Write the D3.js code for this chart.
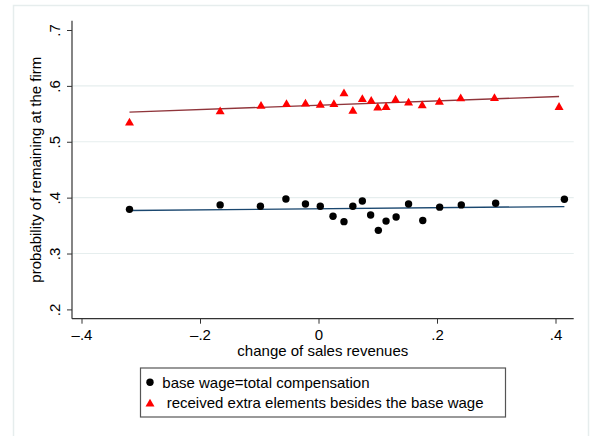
<!DOCTYPE html>
<html>
<head>
<meta charset="utf-8">
<script src="https://cdn.jsdelivr.net/npm/d3@7"></script>
<style>
  html, body { margin: 0; padding: 0; background: #fff; }
  svg { display: block; font-family: "Liberation Sans", Arial, sans-serif; }
</style>
</head>
<body>
<svg id="chart" width="592" height="436"></svg>
<script>
// Group 1: base wage equals total compensation
const baseX = [-0.319, -0.166, -0.098, -0.055, -0.022, 0.003, 0.0245, 0.043, 0.058, 0.074,
               0.088, 0.101, 0.114, 0.131, 0.152, 0.176, 0.2045, 0.241, 0.299, 0.415];
const baseY = [0.379, 0.387, 0.3845, 0.3976, 0.3886, 0.3845, 0.3666, 0.357, 0.3845, 0.394,
               0.369, 0.3415, 0.358, 0.3654, 0.3886, 0.359, 0.383, 0.387, 0.390, 0.397];
// Group 2: received extra pay elements besides the base wage
const extraX = [-0.319, -0.166, -0.097, -0.054, -0.022, 0.003, 0.026, 0.043, 0.058, 0.074,
                0.089, 0.100, 0.114, 0.130, 0.152, 0.175, 0.204, 0.240, 0.297, 0.406];
const extraY = [0.536, 0.556, 0.566, 0.569, 0.570, 0.568, 0.569, 0.5885, 0.557, 0.578,
                0.575, 0.563, 0.564, 0.577, 0.572, 0.567, 0.573, 0.5795, 0.580, 0.564];
// Linear fits (endpoints)
const fitBase = [[-0.319, 0.377], [0.415, 0.384]];
const fitExtra = [[-0.319, 0.553], [0.406, 0.581]];

const xTicks = [-0.4, -0.2, 0, 0.2, 0.4];
const yTicks = [0.2, 0.3, 0.4, 0.5, 0.6, 0.7];
const gridTicks = [0.3, 0.4, 0.5, 0.6];
const xTitle = "change of sales revenues";
const yTitle = "probability of remaining at the firm";
const legendLabels = ["base wage=total compensation", "received extra elements besides the base wage"];

const svg = d3.select("#chart");

const x = d3.scaleLinear().domain([-0.4, 0.4]).range([81.5, 555.5]);
const y = d3.scaleLinear().domain([0.2, 0.7]).range([309.4, 30]);

// plot region edges
const px0 = 72, px1 = 573.7, py0 = 20.7, py1 = 318.7;

const fmt = d => {
  const s = d3.format(".1f")(Math.abs(d));
  if (Math.abs(d) < 1e-9) return "0";
  return (d < 0 ? "\u2013" : "") + s.replace(/^0/, "");
};

// triangle marker centred on its bounding box (side length from size)
const boxTriangle = {
  draw(ctx, size) {
    const s = Math.sqrt(size), h = s * Math.sqrt(3) / 2;
    ctx.moveTo(0, -h / 2);
    ctx.lineTo(s / 2, h / 2);
    ctx.lineTo(-s / 2, h / 2);
    ctx.closePath();
  }
};

// outer graph region border
svg.append("rect")
  .attr("x", 13.5).attr("y", 5.5).attr("width", 575).attr("height", 440)
  .attr("fill", "none").attr("stroke", "#e6eded").attr("stroke-width", 1.5);

// gridlines
svg.append("g").selectAll("line").data(gridTicks).join("line")
  .attr("x1", px0).attr("x2", px1)
  .attr("y1", d => y(d)).attr("y2", d => y(d))
  .attr("stroke", "#e6eeee").attr("stroke-width", 1.2);

// y axis
const yAxis = svg.append("g").attr("transform", `translate(${px0},0)`)
  .attr("font-size", 15)
  .call(d3.axisLeft(y).tickValues(yTicks).tickSize(5).tickSizeOuter(0).tickFormat(fmt));
yAxis.attr("font-size", 15).attr("font-family", "Liberation Sans, Arial, sans-serif");
yAxis.select(".domain").remove();
yAxis.selectAll(".tick line").attr("stroke", "#333");
yAxis.selectAll(".tick text")
  .attr("x", 0).attr("dy", null).attr("y", 0)
  .attr("transform", "translate(-12.5,0) rotate(-90)")
  .attr("text-anchor", "middle")
  .attr("font-size", 15).attr("fill", "#000");
svg.append("line").attr("x1", px0).attr("x2", px0).attr("y1", py0).attr("y2", py1)
  .attr("stroke", "#333").attr("stroke-width", 1.2);

// x axis
const xAxis = svg.append("g").attr("transform", `translate(0,${py1})`)
  .call(d3.axisBottom(x).tickValues(xTicks).tickSize(5).tickSizeOuter(0).tickFormat(fmt));
xAxis.attr("font-size", 15).attr("font-family", "Liberation Sans, Arial, sans-serif");
xAxis.select(".domain").remove();
xAxis.selectAll(".tick line").attr("stroke", "#333");
xAxis.selectAll(".tick text")
  .attr("y", 21).attr("dy", null)
  .attr("font-size", 15).attr("fill", "#000");
svg.append("line").attr("x1", px0).attr("x2", px1).attr("y1", py1).attr("y2", py1)
  .attr("stroke", "#333").attr("stroke-width", 1.2);

// axis titles
svg.append("text").attr("x", (px0 + px1) / 2).attr("y", 355.5)
  .attr("text-anchor", "middle").attr("font-size", 15).attr("fill", "#000").text(xTitle);
svg.append("text")
  .attr("transform", `translate(41,${(py0 + py1) / 2}) rotate(-90)`)
  .attr("text-anchor", "middle").attr("font-size", 15).attr("fill", "#000").text(yTitle);

// fitted lines
const line = d3.line().x(d => x(d[0])).y(d => y(d[1]));
svg.append("path").datum(fitExtra).attr("d", line)
  .attr("fill", "none").attr("stroke", "#90353b").attr("stroke-width", 1.4);
svg.append("path").datum(fitBase).attr("d", line)
  .attr("fill", "none").attr("stroke", "#1a476f").attr("stroke-width", 1.4);

// markers
const tri = d3.symbol().type(boxTriangle).size(81);
svg.append("g").selectAll("path").data(d3.zip(extraX, extraY)).join("path")
  .attr("d", tri)
  .attr("transform", d => `translate(${x(d[0])},${y(d[1])})`)
  .attr("fill", "#ff0000");
svg.append("g").selectAll("circle").data(d3.zip(baseX, baseY)).join("circle")
  .attr("cx", d => x(d[0])).attr("cy", d => y(d[1])).attr("r", 3.7)
  .attr("fill", "#000");

// legend
const lg = svg.append("g");
lg.append("rect").attr("x", 140.5).attr("y", 368).attr("width", 365).attr("height", 49)
  .attr("fill", "#fff").attr("stroke", "#555").attr("stroke-width", 1.2);
lg.append("circle").attr("cx", 150).attr("cy", 382.3).attr("r", 3.7).attr("fill", "#000");
lg.append("path").attr("d", tri).attr("transform", "translate(150,402.6)").attr("fill", "#ff0000");
lg.append("text").attr("x", 162.3).attr("y", 387.5).attr("font-size", 15).attr("fill", "#000")
  .text(legendLabels[0]);
lg.append("text").attr("x", 166.7).attr("y", 407.5).attr("font-size", 15).attr("fill", "#000")
  .text(legendLabels[1]);
</script>
</body>
</html>
